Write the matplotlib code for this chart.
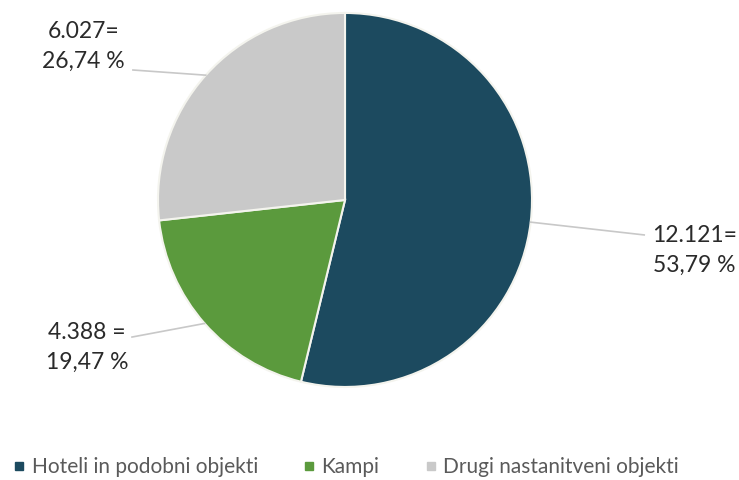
import numpy as np
import matplotlib
matplotlib.use("Agg")
import matplotlib.pyplot as plt
from matplotlib.lines import Line2D

plt.rcParams['font.family'] = ['Lato', 'DejaVu Sans']

categories = ["Hoteli in podobni objekti", "Kampi", "Drugi nastanitveni objekti"]
values = [12121, 4388, 6027]
value_labels = ["12.121=", "4.388 =", "6.027="]
pct_labels = ["53,79 %", "19,47 %", "26,74 %"]
colors = ["#1c4a5f", "#5b9a3d", "#c9c9c9"]

fig = plt.figure(figsize=(7.39, 4.80), dpi=100)
ax = fig.add_axes([0.2138, 0.1938, 0.5061, 0.7792])
wedges, _ = ax.pie(values, colors=colors, startangle=90, counterclock=False,
                   wedgeprops=dict(edgecolor="#f4f4ee", linewidth=1.5))
ax.set_xlim(-1, 1)
ax.set_ylim(-1, 1)
ax.set_aspect('equal')

# label placement (text center, leader end) in radius units
text_pos = [(1.87, -0.27), (-1.38, -0.79), (-1.40, 0.82)]
leader_end = [(1.60, -0.187), (-1.139, -0.733), (-1.134, 0.695)]
for w, vl, pl, tp, le in zip(wedges, value_labels, pct_labels, text_pos, leader_end):
    ang = np.deg2rad((w.theta1 + w.theta2) / 2)
    x0, y0 = np.cos(ang), np.sin(ang)
    ax.plot([x0, le[0]], [y0, le[1]], color="#c8c8c8", lw=1.2, clip_on=False)
    ax.text(tp[0], tp[1], vl + "\n" + pl, ha="center", va="center",
            fontsize=16.5, linespacing=1.5, color="#2a2a2a", clip_on=False)

# legend entries, placed individually to match the reference spacing
legend_x = [0.012, 0.404, 0.569]
for c, lab, lx in zip(colors, categories, legend_x):
    h = Line2D([0], [0], marker='s', linestyle='none', markersize=6,
               markerfacecolor=c, markeredgecolor=c)
    fig.legend([h], [lab], loc="center left", bbox_to_anchor=(lx, 0.027),
               frameon=False, fontsize=15, handletextpad=0.1, handlelength=1.0,
               borderaxespad=0, borderpad=0, labelcolor="#5a5a5a")

fig.savefig("out.png", dpi=100)
